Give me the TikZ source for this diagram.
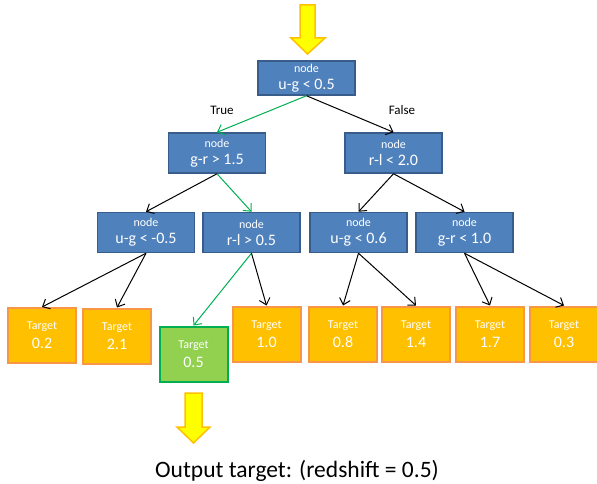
\documentclass[tikz,border=0pt]{standalone}
\usepackage{fontspec}
\setmainfont{Carlito}
\usetikzlibrary{arrows.meta}

\definecolor{boxblue}{HTML}{4F81BD}
\definecolor{boxedge}{HTML}{385D8A}
\definecolor{leaffill}{HTML}{FFC000}
\definecolor{leafedge}{HTML}{F79646}
\definecolor{hitfill}{HTML}{92D050}
\definecolor{hitedge}{HTML}{00B050}
\definecolor{arrowfill}{HTML}{FFFF00}
\definecolor{arrowedge}{HTML}{FFC000}

\newcommand{\bigtxt}{\fontsize{16}{18}\selectfont}

\tikzset{
  split/.style={draw=boxedge, fill=boxblue, line width=1.5pt, text=white,
    minimum width=97pt, minimum height=40pt, align=center, inner sep=1pt,
    font=\fontsize{12}{17}\selectfont},
  leaf/.style={draw=leafedge, fill=leaffill, line width=2pt, text=white,
    minimum width=68pt, minimum height=55pt, align=center, inner sep=1pt,
    font=\fontsize{12}{19}\selectfont},
  hit/.style={leaf, draw=hitedge, fill=hitfill},
  tip/.style={line width=1pt, -{Straight Barb[length=6pt,width=11pt]}},
  hitpath/.style={tip, draw=hitedge},
  bigarrow/.style={draw=arrowedge, fill=arrowfill, line width=1.5pt, line join=miter}
}

\begin{document}
\begin{tikzpicture}[x=1pt,y=-1pt]
\useasboundingbox (0,0) rectangle (597,484);

% input arrow
\draw[bigarrow] (300,5) -- (315,5) -- (315,38) -- (325,38) -- (307.5,54)
  -- (291,38) -- (300,38) -- cycle;

% root
\node[split, minimum height=34pt] (n0) at (306.5,78) {node\\{\bigtxt u-g < 0.5}};
\node (yes) at (222,110) {\fontsize{13}{14}\selectfont True};
\node (no)  at (402,110) {\fontsize{13}{14}\selectfont False};

% level 1
\node[split] (n1) at (217,153)   {node\\{\bigtxt g-r > 1.5}};
\node[split] (n2) at (393.5,153) {node\\{\bigtxt r-l < 2.0}};

% level 2
\node[split] (n3) at (146,232.5)   {node\\{\bigtxt u-g < -0.5}};
\node[split] (n4) at (251.5,232.5) {node\\{\bigtxt r-l > 0.5}};
\node[split] (n5) at (358.5,232.5) {node\\{\bigtxt u-g < 0.6}};
\node[split] (n6) at (464.5,232.5) {node\\{\bigtxt g-r < 1.0}};

% leaves
\node[leaf] (t1) at (42,335.5)  {Target\\{\bigtxt 0.2}};
\node[leaf] (t2) at (117,336)   {Target\\{\bigtxt 2.1}};
\node[hit]  (t3) at (193.5,354) {Target\\{\bigtxt 0.5}};
\node[leaf] (t4) at (266.5,334) {Target\\{\bigtxt 1.0}};
\node[leaf] (t5) at (343,334)   {Target\\{\bigtxt 0.8}};
\node[leaf] (t6) at (416,334)   {Target\\{\bigtxt 1.4}};
\node[leaf] (t7) at (490,334)   {Target\\{\bigtxt 1.7}};
\node[leaf] (t8) at (564,334)   {Target\\{\bigtxt 0.3}};

% edges
\draw[hitpath] (n0.south) -- (n1.north);
\draw[tip]     (n0.south) -- (n2.north);
\draw[tip]     (n1.south) -- (n3.north);
\draw[hitpath] (n1.south) -- (n4.north);
\draw[tip]     (n2.south) -- (n5.north);
\draw[tip]     (n2.south) -- (n6.north);
\draw[tip]     (n3.south) -- (t1.north);
\draw[tip]     (n3.south) -- (t2.north);
\draw[hitpath] (n4.south) -- (t3.north);
\draw[tip]     (n4.south) -- (t4.north);
\draw[tip]     (n5.south) -- (t5.north);
\draw[tip]     (n5.south) -- (t6.north);
\draw[tip]     (n6.south) -- (t7.north);
\draw[tip]     (n6.south) -- (t8.north);

% output arrow
\draw[bigarrow] (185,393) -- (202,393) -- (202,427) -- (210,427) -- (193.5,443)
  -- (177,427) -- (185,427) -- cycle;

\node (out) at (297,471) {\fontsize{23.5}{25}\selectfont Output target: (redshift = 0.5)};
\end{tikzpicture}
\end{document}
